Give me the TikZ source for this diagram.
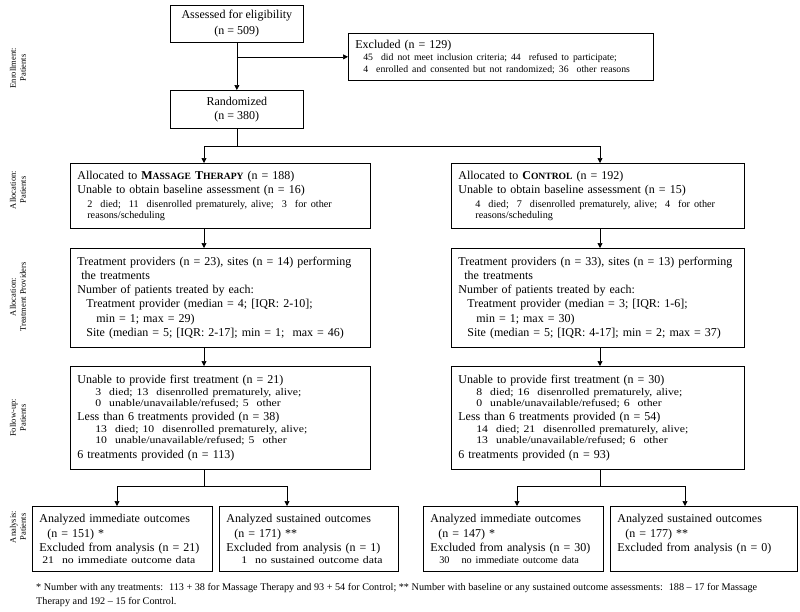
\documentclass[tikz,border=0pt]{standalone}
\usepackage{fontspec}
\setmainfont{Liberation Serif}
\newfontfamily\widefont[FakeStretch=1.15]{Liberation Serif}
\usepackage{tikz}
\usetikzlibrary{calc,arrows.meta}
\newcommand{\mn}{\rmfamily\fontsize{12}{14.3}\selectfont}
\newcommand{\sm}{\fontsize{10.2}{11.5}\selectfont}
\newcommand{\smw}{\fontsize{10.2}{13.5}\selectfont}
\newcommand{\smx}{\widefont\fontsize{10.2}{11.5}\selectfont}
\newcommand{\sme}{\fontsize{9.75}{11.8}\selectfont}
\newcommand{\fakesc}[2]{#1{\fontsize{9.6}{11}\selectfont #2}}
\tikzset{
  box/.style={draw, line width=0.7pt, anchor=north west, inner xsep=7pt, inner ysep=2pt,
    align=left, font=\mn,
    execute at begin node={\setlength{\parindent}{0pt}\hyphenpenalty=10000\exhyphenpenalty=10000}},
  cbox/.style={draw, line width=0.7pt, anchor=north west, align=center, font=\mn},
  arr/.style={-{Triangle[length=5pt,width=5pt]}, line width=0.7pt},
  side/.style={rotate=90, align=center, font=\fontsize{8.5}{10}\selectfont},
}

\begin{document}
\begin{tikzpicture}[x=1pt,y=-1pt]
  \useasboundingbox (0,0) rectangle (800,611);
  \coordinate (colL) at (204,0);
  \coordinate (colR) at (600,0);
  % enrollment
  \node[cbox, minimum width=133pt, minimum height=37pt] (assess) at (170,5)
    {Assessed for eligibility\\[2pt](n = 509)};
  \node[box, text width=291pt, minimum height=47pt] (excl) at (348,33)
    {Excluded (n = 129)\par
     \sme\hspace*{8pt}45~ did not meet inclusion criteria; 44~ refused to participate;\par
     \sme\hspace*{8pt}4~ enrolled and consented but not randomized; 36~ other reasons\par};
  \node[cbox, minimum width=133pt, minimum height=38pt] (rand) at (170,90)
    {Randomized\\(n = 380)};
  % allocation
  \node[box, text width=286pt, minimum height=65pt] (alm) at (70,163)
    {Allocated to \textbf{\fakesc{M}{ASSAGE} \fakesc{T}{HERAPY}} (n = 188)\par
     Unable to obtain baseline assessment (n = 16)\par
     \smw\hspace*{10pt}2~ died;~ 11~ disenrolled prematurely, alive;~ 3~ for other\par
     \sm\hspace*{10pt}reasons/scheduling\par};
  \node[box, text width=279pt, minimum height=65pt] (alc) at (451,163)
    {Allocated to \textbf{\fakesc{C}{ONTROL}} (n = 192)\par
     Unable to obtain baseline assessment (n = 15)\par
     \smw\hspace*{17pt}4~ died;~ 7~ disenrolled prematurely, alive;~ 4~ for other\par
     \sm\hspace*{17pt}reasons/scheduling\par};
  % providers
  \node[box, text width=286pt, minimum height=99pt] (trm) at (70,248)
    {Treatment providers (n = 23), sites (n = 14) performing\par
     \hspace*{4pt}the treatments\par
     Number of patients treated by each:\par
     \hspace*{9pt}Treatment provider (median = 4; [IQR: 2-10];\par
     \hspace*{19pt}min = 1; max = 29)\par
     \hspace*{9pt}Site (median = 5; [IQR: 2-17]; min = 1;~ max = 46)\par};
  \node[box, text width=279pt, minimum height=99pt] (trc) at (451,248)
    {Treatment providers (n = 33), sites (n = 13) performing\par
     \hspace*{6pt}the treatments\par
     Number of patients treated by each:\par
     \hspace*{9pt}Treatment provider (median = 3; [IQR: 1-6];\par
     \hspace*{18pt}min = 1; max = 30)\par
     \hspace*{9pt}Site (median = 5; [IQR: 4-17]; min = 2; max = 37)\par};
  % follow-up
  \node[box, text width=286pt, minimum height=103pt] (fum) at (70,366)
    {Unable to provide first treatment (n = 21)\par
     \smx\hspace*{18pt}3~ died; 13~ disenrolled prematurely, alive;\par
     \smx\hspace*{18pt}0~ unable/unavailable/refused; 5~ other\par
     \mn Less than 6 treatments provided (n = 38)\par
     \smx\hspace*{18pt}13~ died; 10~ disenrolled prematurely, alive;\par
     \smx\hspace*{18pt}10~ unable/unavailable/refused; 5~ other\par
     \mn 6 treatments provided (n = 113)\par};
  \node[box, text width=279pt, minimum height=103pt] (fuc) at (451,366)
    {Unable to provide first treatment (n = 30)\par
     \smx\hspace*{18pt}8~ died; 16~ disenrolled prematurely, alive;\par
     \smx\hspace*{18pt}0~ unable/unavailable/refused; 6~ other\par
     \mn Less than 6 treatments provided (n = 54)\par
     \smx\hspace*{18pt}14~ died; 21~ disenrolled prematurely, alive;\par
     \smx\hspace*{18pt}13~ unable/unavailable/refused; 6~ other\par
     \mn 6 treatments provided (n = 93)\par};
  % analysis
  \node[box, text width=166pt, minimum height=65pt] (anmi) at (32,506)
    {Analyzed immediate outcomes\par
     \hspace*{8pt}(n = 151) *\par
     Excluded from analysis (n = 21)\par
     \smx\hspace*{3pt}21~ no immediate outcome data\par};
  \node[box, text width=165pt, minimum height=65pt] (anms) at (219,506)
    {Analyzed sustained outcomes\par
     \hspace*{8pt}(n = 171) **\par
     Excluded from analysis (n = 1)\par
     \smx\hspace*{15pt}1~ no sustained outcome data\par};
  \node[box, text width=166pt, minimum height=65pt] (anci) at (423,506)
    {Analyzed immediate outcomes\par
     \hspace*{8pt}(n = 147) *\par
     Excluded from analysis (n = 30)\par
     \sm\hspace*{9pt}30~ ~no immediate outcome data\par};
  \node[box, text width=173pt, minimum height=65pt] (ancs) at (610,506)
    {Analyzed sustained outcomes\par
     \hspace*{8pt}(n = 177) **\par
     Excluded from analysis (n = 0)\par
     \sm\mbox{}\par};
  % footnote
  \node[anchor=north west, align=left, inner sep=0pt, font=\fontsize{10.2}{14}\selectfont] (note) at (36,583)
    {* Number with any treatments:~ 113 + 38 for Massage Therapy and 93 + 54 for Control; ** Number with baseline or any sustained outcome assessments:~ 188 -- 17 for Massage\\
     Therapy and 192 -- 15 for Control.};
  % stage labels
  \node[side] (s1) at (18,68) {Enrollment:\\Patients};
  \node[side] (s2) at (18,190) {Allocation:\\Patients};
  \node[side] (s3) at (18,297) {Allocation:\\Treatment Providers};
  \node[side] (s4) at (18,418) {Follow-up:\\Patients};
  \node[side] (s5) at (18,527) {Analysis:\\Patients};
  % connectors
  \draw[arr] (assess) -- (rand);
  \draw[arr] (assess.south |- excl.west) -- (excl.west);
  \coordinate (split) at ($(rand.south)+(0,18)$);
  \draw (rand) -- (split);
  \draw[arr] (split) -| (alm.north -| colL);
  \draw[arr] (split) -| (alc.north -| colR);
  \draw[arr] (alm.south -| colL) -- (trm.north -| colL);
  \draw[arr] (alc.south -| colR) -- (trc.north -| colR);
  \draw[arr] (trm.south -| colL) -- (fum.north -| colL);
  \draw[arr] (trc.south -| colR) -- (fuc.north -| colR);
  \coordinate (splitL) at ($(fum.south -| colL)+(0,17)$);
  \coordinate (splitR) at ($(fuc.south -| colR)+(0,17)$);
  \draw (fum.south -| colL) -- (splitL);
  \draw (fuc.south -| colR) -- (splitR);
  \draw[arr] (splitL) -| ($(anmi.north west)+(85,0)$);
  \draw[arr] (splitL) -| ($(anms.north west)+(68,0)$);
  \draw[arr] (splitR) -| ($(anci.north west)+(94,0)$);
  \draw[arr] (splitR) -| ($(ancs.north west)+(75,0)$);
\end{tikzpicture}
\end{document}
